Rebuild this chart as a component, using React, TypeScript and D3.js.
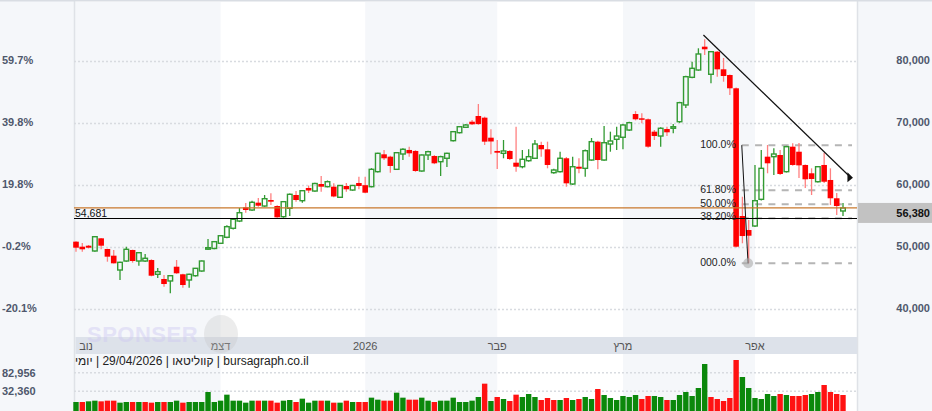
import React from "react";
import * as d3 from "d3";

// ---- data ----
const opens = [50940,50130,50290,49440,51480,49760,48680,46370,47820,49600,47820,47820,47980,45680,44920,44600,46900,45680,44760,45450,46210,49760,49840,50680,51650,53100,54270,56480,56050,57230,56690,57660,56690,54970,56320,58470,57550,59600,59110,60240,59810,59810,58100,59920,59270,60400,60050,59810,62230,65030,64650,62610,65080,65730,65570,62340,64920,64760,63840,64390,67230,68520,69390,70290,71210,70940,67710,65570,65190,65570,63680,63030,64000,64390,66530,65840,62070,62230,64390,60240,63030,62770,64110,67070,64110,66690,67450,67780,68950,71530,70840,70680,68680,67980,69110,69230,70290,72990,77450,78630,82390,77940,81580,78740,77820,75680,55080,52820,53470,57770,64650,64650,64920,62230,66260,65450,63310,61970,60610,63310,60890,57940,55890];
const highs = [50990,50730,50400,51800,51520,49800,49600,47700,50130,49650,49250,48950,48100,46690,45560,45550,47980,45750,45750,46700,47900,51370,51000,52000,53600,54700,56370,57180,57550,57980,58470,58740,56800,57500,58700,59110,59250,60000,60450,61530,60810,60350,60100,60400,60100,61420,61420,62800,65300,65730,64800,65400,66000,66260,65700,65000,65600,64900,64800,65300,68800,69600,69900,70570,73150,71100,69070,67340,67340,65700,69480,65730,65840,67340,67070,67070,62700,65450,64600,64650,64390,65800,67660,67200,69600,68680,69480,69900,70300,72000,71650,70800,68950,69400,69480,69920,73500,77700,79970,82130,83580,81700,81700,80570,77900,75800,58190,54440,63310,65730,66530,66000,65730,66400,66810,66860,63400,62770,63150,65290,62770,58790,57180];
const lows = [49320,49320,49840,49300,49710,47710,47400,44760,47700,47550,47060,47660,45350,45080,43680,42610,45750,43520,43520,45300,46100,49600,49700,50600,51500,52900,54100,55610,55900,56580,56550,56860,54800,54800,55080,57390,57230,58790,59000,59000,59700,58100,58000,59000,59150,59390,58740,59700,62100,64110,62070,62500,64110,64650,62200,62200,64110,63450,61530,62980,67100,68400,69300,69750,69800,66530,65030,62660,64390,64100,62230,62770,63840,64300,64650,62770,61900,62100,59810,60100,61970,61420,64000,62610,64000,65450,65730,65840,68800,70500,70030,66100,67340,66260,67980,68420,70100,72500,77300,78500,81050,76490,77550,76740,74600,50000,50680,47450,53300,57600,61970,61690,61700,62100,63200,61210,59600,58470,60500,60400,56860,55240,55080];
const closes = [49970,49710,49970,51740,50290,48520,47450,47610,49710,47820,49160,48260,45450,46100,44110,45450,45840,43950,45680,46640,47820,49970,50940,51900,53360,54550,55610,56050,57290,56740,57870,57390,54870,57390,58580,57660,59160,59190,60320,59810,60610,58230,60000,59390,60000,59920,58840,62610,65190,64390,63150,65290,65840,65190,62340,64920,65450,63580,64650,65190,68680,69480,69760,69870,69900,67070,67100,65290,65570,64270,63030,64230,64650,66690,65840,63310,62500,64390,60350,63030,62710,65610,67070,64110,66900,67180,67980,69760,70130,70680,70600,66260,67980,69230,68580,69480,73360,77550,78900,81210,81970,81580,78740,77660,75680,50130,51850,51900,57550,62770,63580,65080,61860,66260,63310,63250,61000,61050,63030,60610,57940,56690,56380];
const volumes = [3256,3256,5070,6883,5070,6883,6883,1443,3256,3256,3256,3256,1443,3256,3256,3256,6883,1443,3256,3256,3256,30456,3256,6883,23203,6883,6883,1443,6883,6883,6883,6883,1443,6883,8696,3256,12323,1443,6883,6883,6883,1443,1443,6883,3256,3256,3256,15043,9603,6883,6883,28643,15043,9603,9603,15043,6883,3256,6883,6883,15043,3256,3256,6883,16856,53123,5976,16856,11416,5976,23203,16856,25016,16856,8696,14136,8696,8696,14136,8696,11416,16856,11416,38616,22296,14136,8696,19576,16856,22296,11416,19576,19576,16856,8696,8696,22296,30456,19576,41336,106616,16856,11416,5976,14136,117496,71256,41336,14136,11416,25016,19576,25016,22296,19576,19576,22296,25016,30456,49496,30456,25016,22296];

const priceTicks = [40000, 50000, 60000, 70000, 80000];
const pctLabels = ["-20.1%", "-0.2%", "19.8%", "39.8%", "59.7%"];
const volTicks = [32360, 82956];
const monthLabels = ["נוב", "דצמ", "2026", "פבר", "מרץ", "אפר"];
const monthStarts = [0, 23, 46, 67, 87, 108];
const fibLevels = [1, 0.618, 0.5, 0.382, 0];
const fibLabels = ["100.0%", "61.80%", "50.00%", "38.20%", "000.0%"];
const fibHigh = 66500;
const fibLow = 47450;
const fibFromIndex = 105.9;
const fibToIndex = 106.9;
const lastPrice = 56380;
const levelLine = 54681;
const trendFrom = { i: 99.8, p: 84280 };
const trendTo = { i: 123.1, p: 61420 };
const footerParts = ["יומי", "29/04/2026", "קווליטאו", "bursagraph.co.il"];

// ---- layout ----
const W = 932;
const H = 411;
const plotLeft = 74;
const plotRight = 857;
const bandTop = 337;
const bandBottom = 354;

const FONT = "'Liberation Sans', Arial, sans-serif";
const GREEN = "#329a32";
const RED = "#ff0000";
const RED_WICK = "#ff8080";
const VGREEN = "#0b880b";
const VRED = "#ff1212";
const AXIS_TXT = "#4f586c";
const SHADE = "#f5f7fa";

const fmt = d3.format(",");
const LRM = "\u200E";

export default function App() {
  const x = d3.scaleLinear().domain([0, opens.length - 1]).range([76, 843]);
  const y = d3.scaleLinear().domain([40000, 80000]).range([309.5, 61.5]);
  const yv = d3.scaleLinear().domain([volTicks[0], volTicks[1]]).range([391.3, 372.7]);

  const bounds = monthStarts.map((s, k) => (k === 0 ? plotLeft : x(s)));
  const bandEnds = monthStarts.map((_, k) => (k < monthStarts.length - 1 ? bounds[k + 1] : plotRight));

  const fx1 = x(fibFromIndex);
  const fx2 = x(fibToIndex);
  const tEndX = x(trendTo.i);
  const tEndY = y(trendTo.p);

  const footer = footerParts.join(LRM + " | " + LRM);

  return (
    <svg width={W} height={H} style={{ position: "absolute", left: 0, top: 0, display: "block" }} fontFamily={FONT}>
      <rect x={0} y={0} width={W} height={H} fill="#ffffff" />
      {/* month shading */}
      {monthStarts.map((s, k) =>
        k % 2 === 0 ? (
          <rect key={"mb" + k} x={bounds[k]} y={2} width={bandEnds[k] - bounds[k]} height={H - 2} fill={SHADE} />
        ) : null
      )}
      {/* side panels */}
      <rect x={0} y={0} width={plotLeft} height={H} fill={SHADE} />
      <rect x={plotRight} y={0} width={W - plotRight} height={H} fill={SHADE} />
      <line x1={plotLeft + 0.5} x2={plotLeft + 0.5} y1={0} y2={H} stroke="#dfe2e7" strokeWidth={1.5} />
      <line x1={plotRight + 0.5} x2={plotRight + 0.5} y1={0} y2={H} stroke="#dfe2e7" strokeWidth={1.5} />
      <line x1={0} x2={W} y1={0.75} y2={0.75} stroke="#d9dde3" strokeWidth={1.5} />

      {/* price gridlines */}
      {priceTicks.map((t) => (
        <line key={"g" + t} x1={plotLeft} x2={plotRight} y1={y(t)} y2={y(t)} stroke="#d8dbe0" strokeWidth={1.5} strokeDasharray="2 2" />
      ))}
      {/* volume gridlines */}
      {volTicks.map((t) => (
        <line key={"vg" + t} x1={plotLeft} x2={plotRight} y1={yv(t)} y2={yv(t)} stroke="#d8dbe0" strokeWidth={1.5} strokeDasharray="2 2" />
      ))}

      {/* fib dashed levels */}
      {fibLevels.map((L) => {
        const yy = y(fibLow + L * (fibHigh - fibLow));
        return (
          <line key={"fl" + L} x1={fx1} x2={plotRight - 5} y1={yy} y2={yy} stroke="#b5b5b5" strokeWidth={2} strokeDasharray="7 6.3" />
        );
      })}

      {/* candles */}
      {opens.map((o, i) => {
        const c = closes[i];
        const up = c >= o;
        const cx = x(i);
        const yTop = y(Math.max(o, c));
        const yBot = y(Math.min(o, c));
        const yH = y(highs[i]);
        const yL = y(lows[i]);
        if (up) {
          const h = Math.max(yBot - yTop, 1.5);
          return (
            <g key={"c" + i}>
              {yH < yTop && <line x1={cx} x2={cx} y1={yH} y2={yTop} stroke={GREEN} strokeWidth={1.3} />}
              {yL > yTop + h && <line x1={cx} x2={cx} y1={yTop + h} y2={yL} stroke={GREEN} strokeWidth={1.3} />}
              <rect x={cx - 2.3} y={yTop} width={4.6} height={h} fill="none" stroke={GREEN} strokeWidth={1.4} />
            </g>
          );
        }
        const h = Math.max(yBot - yTop, 1.5);
        return (
          <g key={"c" + i}>
            <line x1={cx} x2={cx} y1={yH} y2={yL} stroke={RED_WICK} strokeWidth={1.3} />
            <rect x={cx - 2.8} y={yTop} width={5.6} height={h} fill={RED} />
          </g>
        );
      })}

      {/* horizontal lines */}
      <line x1={plotLeft} x2={plotRight} y1={y(lastPrice)} y2={y(lastPrice)} stroke="#c9782c" strokeWidth={1.2} />
      <line x1={plotLeft} x2={plotRight} y1={y(levelLine)} y2={y(levelLine)} stroke="#000" strokeWidth={1.2} />
      <text x={plotLeft + 1} y={y(levelLine) - 1.2} fontSize={10.5} fill="#111">
        {fmt(levelLine)}
      </text>

      {/* fib connector and anchor */}
      <line x1={fx1} y1={y(fibHigh)} x2={fx2} y2={y(fibLow)} stroke="#111" strokeWidth={1} />
      <circle cx={fx2} cy={y(fibLow)} r={5} fill="#aaaaaa" opacity={0.6} />
      {fibLevels.map((L, k) => (
        <text key={"ft" + L} x={fx1 - 6} y={y(fibLow + L * (fibHigh - fibLow)) + 2.3} fontSize={10.5} fill="#222" textAnchor="end">
          {fibLabels[k]}
        </text>
      ))}

      {/* trend line */}
      <line x1={x(trendFrom.i)} y1={y(trendFrom.p)} x2={tEndX} y2={tEndY} stroke="#111" strokeWidth={1.2} />
      <path d={`M${tEndX - 2.5},${tEndY - 4.5} L${tEndX - 2.5},${tEndY + 5.5} L${tEndX + 3},${tEndY + 1} Z`} fill="#111" />

      {/* axis labels */}
      {priceTicks.map((t, k) => (
        <text key={"pl" + t} x={2} y={y(t) + 2.5} fontSize={11} fontWeight={700} fill={AXIS_TXT}>
          {pctLabels[k]}
        </text>
      ))}
      {priceTicks.map((t) => (
        <text key={"pr" + t} x={930} y={y(t) + 2.5} fontSize={11} fontWeight={700} fill={AXIS_TXT} textAnchor="end">
          {fmt(t)}
        </text>
      ))}
      {volTicks.map((t) => (
        <text key={"vl" + t} x={2} y={yv(t) + 4} fontSize={11} fontWeight={700} fill={AXIS_TXT}>
          {fmt(t)}
        </text>
      ))}

      {/* last price box */}
      <rect x={plotRight + 1} y={y(lastPrice) - 5} width={W - plotRight - 1} height={20} fill="#c2c2c2" />
      <text x={930} y={y(lastPrice) + 9} fontSize={11} fontWeight={700} fill="#111" textAnchor="end">
        {fmt(lastPrice)}
      </text>

      {/* time band */}
      <rect x={plotLeft + 1.5} y={bandTop} width={plotRight - plotLeft - 1.5} height={bandBottom - bandTop} fill="#dde2ea" />
      {monthStarts.map((s, k) => (
        <text key={"ml" + k} x={Math.max(x(s), plotLeft + 12)} y={349.5} fontSize={11} fill="#555" textAnchor="middle">
          {monthLabels[k]}
        </text>
      ))}

      {/* volume bars */}
      {volumes.map((v, i) => {
        const upv = i === 0 || closes[i] >= closes[i - 1];
        const top = yv(v);
        return <rect key={"v" + i} x={x(i) - 2.7} y={top} width={5.4} height={H - top} fill={upv ? VGREEN : VRED} />;
      })}

      {/* footer text */}
      <text x={plotLeft + 1} y={364.5} fontSize={12} fill="#222" direction="ltr">
        {footer}
      </text>

      {/* watermark */}
      <g opacity={0.45}>
        <text x={87} y={342} fontSize={22} fontWeight={700} fill="#cfc9f2" letterSpacing={0.5}>
          SPONSER
        </text>
        <ellipse cx={221} cy={334} rx={17} ry={19} fill="#c4c4c4" opacity={0.7} />
      </g>
    </svg>
  );
}
